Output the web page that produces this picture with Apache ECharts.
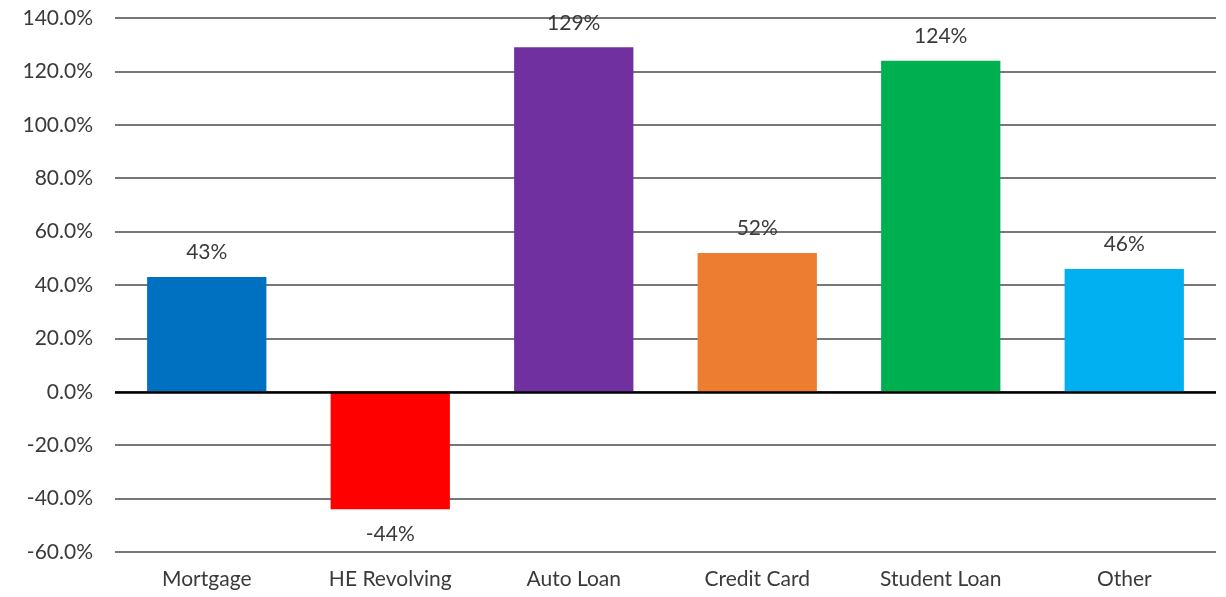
<!DOCTYPE html>
<html>
<head>
<meta charset="utf-8">
<script src="https://cdn.jsdelivr.net/npm/echarts@6/dist/echarts.min.js"></script>
<style>
  html, body { margin: 0; padding: 0; background: #fff; }
  #chart { width: 1226px; height: 597px; }
</style>
</head>
<body>
<div id="chart"></div>
<script>
// Change in balance by debt type (percent)
const categories = ['Mortgage', 'HE Revolving', 'Auto Loan', 'Credit Card', 'Student Loan', 'Other'];
const changePct = [43, -44, 129, 52, 124, 46];
const barColors = ['#0070C0', '#FF0000', '#7030A0', '#ED7D31', '#00B050', '#00B0F0'];
const yTicks = { min: -60, max: 140, step: 20 };

const FONT = 'Lato, "Open Sans", sans-serif';
const TEXT = '#3a3a3a';
const chart = echarts.init(document.getElementById('chart'));

chart.setOption({
  animation: false,
  grid: { left: 115, right: 10, top: 18, bottom: 45, containLabel: false },
  xAxis: {
    type: 'category',
    data: categories,
    position: 'bottom',
    axisLine: { show: false },
    axisTick: { show: false },
    axisLabel: { color: TEXT, fontFamily: FONT, fontSize: 21, margin: 17 }
  },
  yAxis: {
    type: 'value',
    min: yTicks.min,
    max: yTicks.max,
    interval: yTicks.step,
    axisLine: { show: false },
    axisTick: { show: false },
    axisLabel: {
      color: TEXT, fontFamily: FONT, fontSize: 21, margin: 22,
      formatter: v => v.toFixed(1) + '%'
    },
    splitLine: { lineStyle: { color: '#4a4a4a', width: 1.5 } }
  },
  series: [{
    type: 'bar',
    barWidth: '65%',
    data: changePct.map((v, i) => ({ value: v, itemStyle: { color: barColors[i] } })),
    label: {
      show: true,
      position: 'outside',
      distance: 14,
      color: TEXT,
      fontFamily: FONT,
      fontSize: 21,
      formatter: p => p.value + '%'
    },
    markLine: {
      silent: true,
      symbol: 'none',
      label: { show: false },
      lineStyle: { color: '#000', width: 2.5, type: 'solid' },
      data: [{ yAxis: 0 }]
    }
  }]
});
</script>
</body>
</html>
